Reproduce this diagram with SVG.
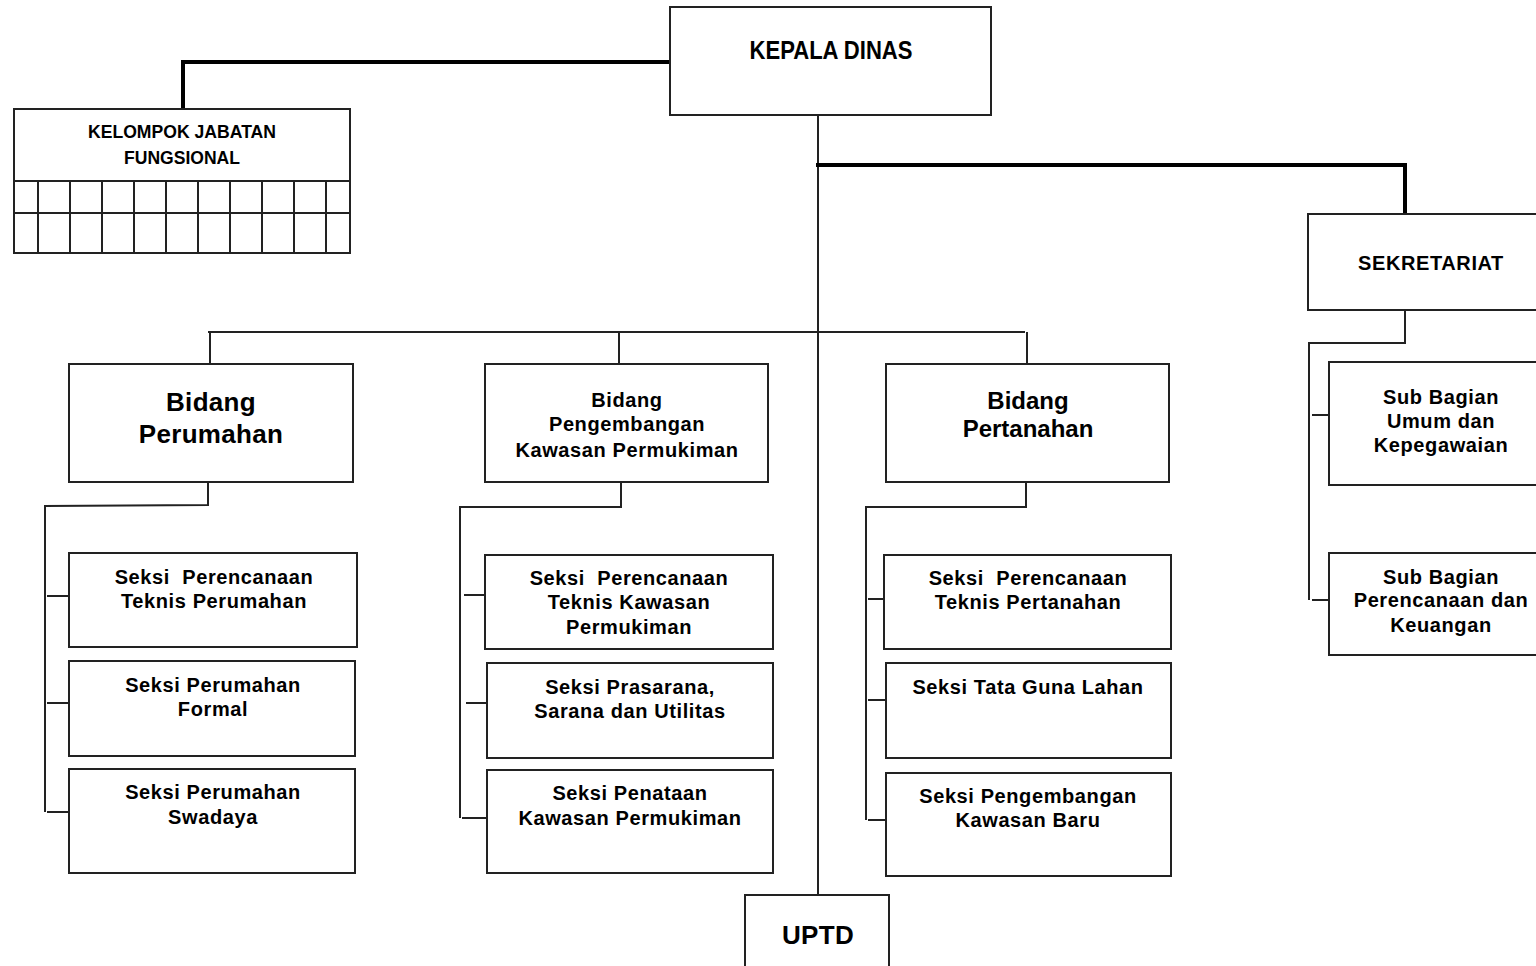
<svg xmlns="http://www.w3.org/2000/svg" width="1536" height="966" viewBox="0 0 1536 966">
<style>
.box{fill:#fff;stroke:#222;stroke-width:2}
.ln{fill:none;stroke:#222;stroke-width:2}
.thick{fill:none;stroke:#000;stroke-width:4}
text{font-family:"Liberation Sans",Arial,sans-serif;font-weight:bold;fill:#000;text-anchor:middle}
.t20{font-size:20px;letter-spacing:0.6px}
.t24{font-size:24px}
.t26{font-size:26px;letter-spacing:0.3px}
.nar{font-family:"Liberation Sans Narrow","Liberation Sans",sans-serif}
</style>
<rect width="1536" height="966" fill="#fff"/>
<g id="connectors">
<polyline class="thick" points="670,62 183,62 183,109"/>
<line class="ln" x1="818" y1="115" x2="818" y2="895"/>
<polyline class="thick" points="816,165 1405,165 1405,214"/>
<line class="ln" x1="208" y1="332" x2="1025" y2="332"/>
<line class="ln" x1="210" y1="332" x2="210" y2="364"/>
<line class="ln" x1="619" y1="332" x2="619" y2="364"/>
<line class="ln" x1="1027" y1="332" x2="1027" y2="364"/>
<polyline class="ln" points="208,482 208,505 45,506 45,812"/>
<line class="ln" x1="47" y1="596" x2="69" y2="596"/>
<line class="ln" x1="47" y1="703" x2="69" y2="703"/>
<line class="ln" x1="47" y1="812" x2="69" y2="812"/>
<polyline class="ln" points="621,482 621,507 460,507 460,818"/>
<line class="ln" x1="464" y1="595" x2="485" y2="595"/>
<line class="ln" x1="466" y1="703" x2="487" y2="703"/>
<line class="ln" x1="462" y1="818" x2="487" y2="818"/>
<polyline class="ln" points="1026,482 1026,507 866,507 866,820"/>
<line class="ln" x1="868" y1="599" x2="884" y2="599"/>
<line class="ln" x1="868" y1="700" x2="886" y2="700"/>
<line class="ln" x1="868" y1="820" x2="886" y2="820"/>
<polyline class="ln" points="1405,310 1405,343 1309,343 1309,600"/>
<line class="ln" x1="1312" y1="415" x2="1329" y2="415"/>
<line class="ln" x1="1312" y1="600" x2="1329" y2="600"/>
</g>
<g id="kepala-dinas">
<rect class="box" x="670" y="7" width="321" height="108"/>
<text class="nar" x="831" y="59" font-size="26" textLength="163" lengthAdjust="spacingAndGlyphs">KEPALA DINAS</text>
</g>
<g id="kelompok-jabatan-fungsional">
<rect class="box" x="14" y="109" width="336" height="144"/>
<line class="ln" x1="14" y1="181" x2="350" y2="181"/>
<line class="ln" x1="14" y1="213" x2="350" y2="213"/>
<path class="ln" d="M38,181V253M70,181V253M102,181V253M134,181V253M166,181V253M198,181V253M230,181V253M262,181V253M294,181V253M326,181V253"/>
<text class="nar" x="182" y="138" font-size="18" textLength="188" lengthAdjust="spacingAndGlyphs">KELOMPOK JABATAN</text>
<text class="nar" x="182" y="164" font-size="18" textLength="116" lengthAdjust="spacingAndGlyphs">FUNGSIONAL</text>
</g>
<g id="sekretariat">
<rect class="box" x="1308" y="214" width="240" height="96"/>
<text class="t20" x="1431" y="270">SEKRETARIAT</text>
</g>
<g id="bidang-perumahan">
<rect class="box" x="69" y="364" width="284" height="118"/>
<text class="t26" x="211" y="411">Bidang</text>
<text class="t26" x="211" y="443">Perumahan</text>
</g>
<g id="bidang-pengembangan">
<rect class="box" x="485" y="364" width="283" height="118"/>
<text class="t20" x="627" y="407">Bidang</text>
<text class="t20" x="627" y="431">Pengembangan</text>
<text class="t20" x="627" y="457">Kawasan Permukiman</text>
</g>
<g id="bidang-pertanahan">
<rect class="box" x="886" y="364" width="283" height="118"/>
<text class="t24" x="1028" y="409">Bidang</text>
<text class="t24" x="1028" y="437">Pertanahan</text>
</g>
<g id="seksi-perencanaan-perumahan">
<rect class="box" x="69" y="553" width="288" height="94"/>
<text class="t20" x="214" y="584" xml:space="preserve">Seksi  Perencanaan</text>
<text class="t20" x="214" y="608">Teknis Perumahan</text>
</g>
<g id="seksi-perumahan-formal">
<rect class="box" x="69" y="661" width="286" height="95"/>
<text class="t20" x="213" y="692">Seksi Perumahan</text>
<text class="t20" x="213" y="716">Formal</text>
</g>
<g id="seksi-perumahan-swadaya">
<rect class="box" x="69" y="769" width="286" height="104"/>
<text class="t20" x="213" y="799">Seksi Perumahan</text>
<text class="t20" x="213" y="824">Swadaya</text>
</g>
<g id="seksi-perencanaan-kawasan">
<rect class="box" x="485" y="555" width="288" height="94"/>
<text class="t20" x="629" y="585" xml:space="preserve">Seksi  Perencanaan</text>
<text class="t20" x="629" y="609">Teknis Kawasan</text>
<text class="t20" x="629" y="634">Permukiman</text>
</g>
<g id="seksi-prasarana">
<rect class="box" x="487" y="663" width="286" height="95"/>
<text class="t20" x="630" y="694">Seksi Prasarana,</text>
<text class="t20" x="630" y="718">Sarana dan Utilitas</text>
</g>
<g id="seksi-penataan">
<rect class="box" x="487" y="770" width="286" height="103"/>
<text class="t20" x="630" y="800">Seksi Penataan</text>
<text class="t20" x="630" y="825">Kawasan Permukiman</text>
</g>
<g id="seksi-perencanaan-pertanahan">
<rect class="box" x="884" y="555" width="287" height="94"/>
<text class="t20" x="1028" y="585" xml:space="preserve">Seksi  Perencanaan</text>
<text class="t20" x="1028" y="609">Teknis Pertanahan</text>
</g>
<g id="seksi-tata-guna-lahan">
<rect class="box" x="886" y="663" width="285" height="95"/>
<text class="t20" x="1028" y="694">Seksi Tata Guna Lahan</text>
</g>
<g id="seksi-pengembangan-kawasan-baru">
<rect class="box" x="886" y="773" width="285" height="103"/>
<text class="t20" x="1028" y="803">Seksi Pengembangan</text>
<text class="t20" x="1028" y="827">Kawasan Baru</text>
</g>
<g id="sub-bagian-umum">
<rect class="box" x="1329" y="362" width="220" height="123"/>
<text class="t20" x="1441" y="404">Sub Bagian</text>
<text class="t20" x="1441" y="428">Umum dan</text>
<text class="t20" x="1441" y="452">Kepegawaian</text>
</g>
<g id="sub-bagian-perencanaan">
<rect class="box" x="1329" y="553" width="220" height="102"/>
<text class="t20" x="1441" y="584">Sub Bagian</text>
<text class="t20" x="1441" y="607">Perencanaan dan</text>
<text class="t20" x="1441" y="632">Keuangan</text>
</g>
<g id="uptd">
<rect class="box" x="745" y="895" width="144" height="80"/>
<text class="t26" x="818" y="944">UPTD</text>
</g>
</svg>
